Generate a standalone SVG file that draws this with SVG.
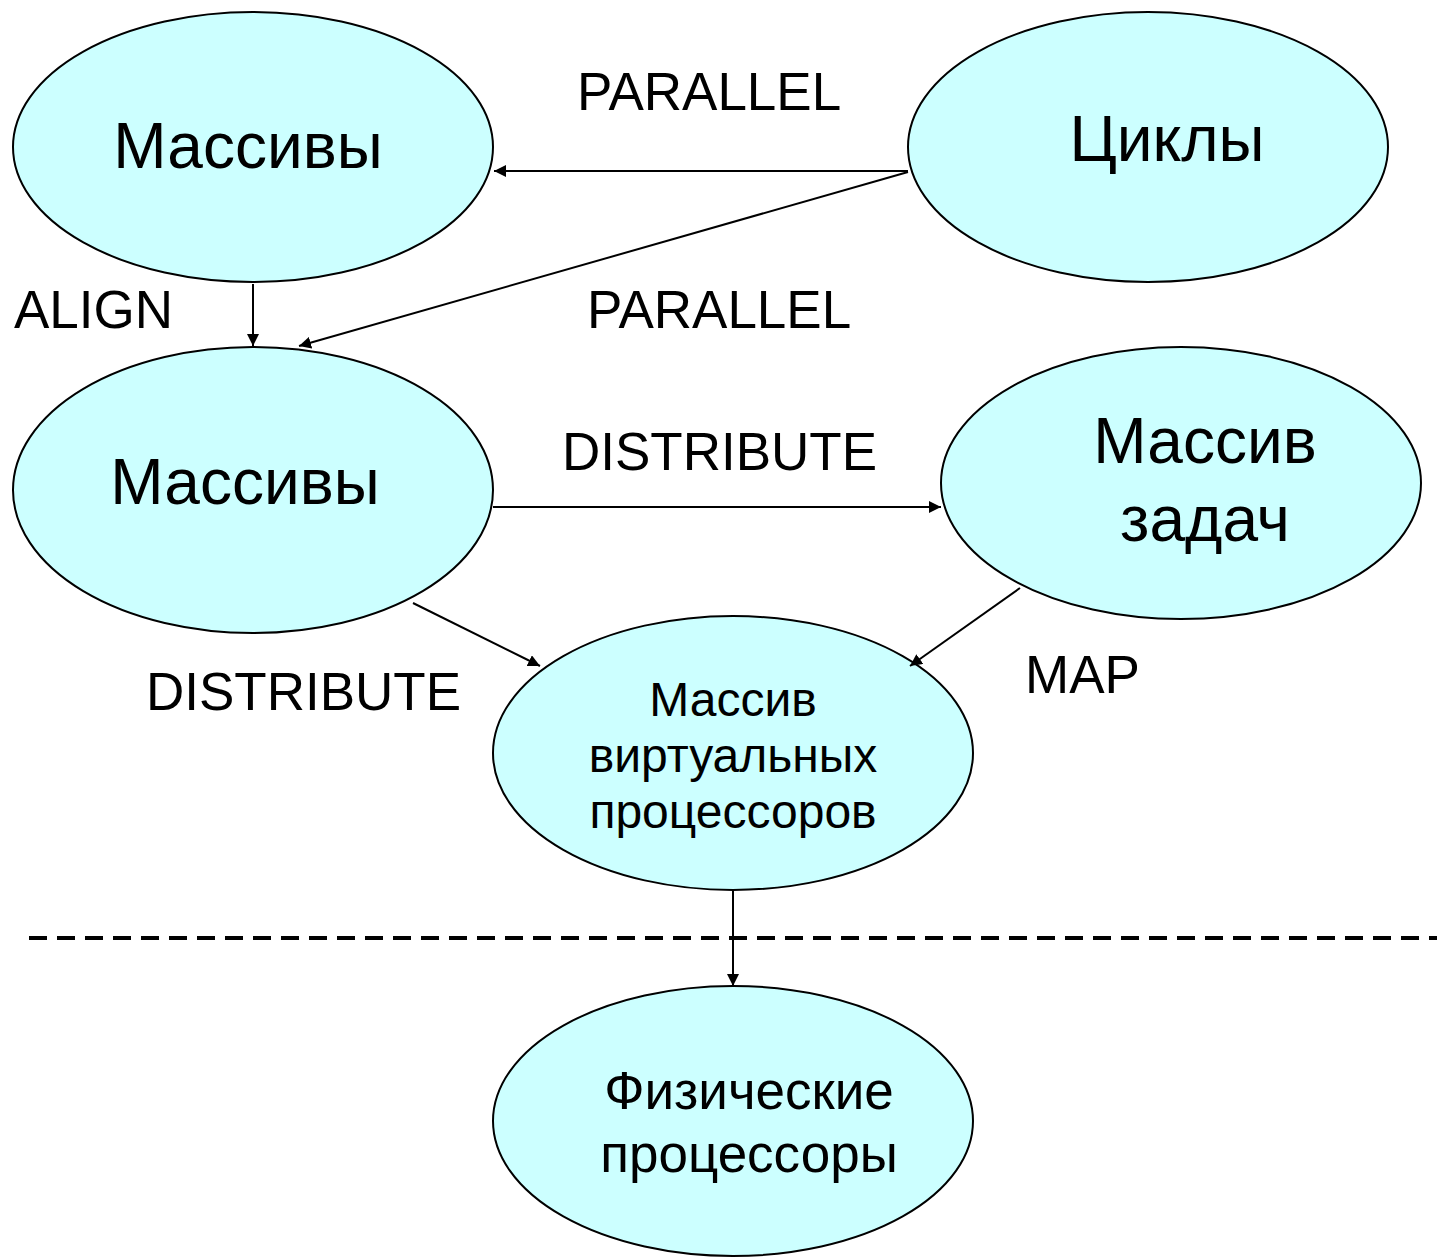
<svg xmlns="http://www.w3.org/2000/svg" width="1437" height="1257" viewBox="0 0 1437 1257">
  <style>
    .node ellipse { fill: #CCFFFF; stroke: #000; stroke-width: 2; }
    text { font-family: "Liberation Sans", Arial, sans-serif; fill: #000; }
    .big { font-size: 64px; text-anchor: middle; }
    .mid { font-size: 53px; text-anchor: middle; }
    .sm { font-size: 48px; text-anchor: middle; }
    .lbl { font-size: 53px; }
    .edge { stroke: #000; stroke-width: 2; fill: none; marker-end: url(#arrow); }
  </style>
  <defs>
    <marker id="arrow" viewBox="0 0 10 10" refX="10" refY="5" markerWidth="12" markerHeight="12" markerUnits="userSpaceOnUse" orient="auto">
      <path d="M0,0 L10,5 L0,10 z" fill="#000"/>
    </marker>
  </defs>

  <rect width="1437" height="1257" fill="#fff"/>

  <!-- separator between virtual and physical levels -->
  <line x1="29" y1="938" x2="1437" y2="938" stroke="#000" stroke-width="4" stroke-dasharray="18 10"/>

  <g id="node-arrays-top" class="node">
    <ellipse cx="253" cy="147" rx="240" ry="135"/>
    <text class="big" x="248" y="168">Массивы</text>
  </g>
  <g id="node-loops" class="node">
    <ellipse cx="1148" cy="147" rx="240" ry="135"/>
    <text class="big" x="1167" y="161">Циклы</text>
  </g>
  <g id="node-arrays-mid" class="node">
    <ellipse cx="253" cy="490" rx="240" ry="143"/>
    <text class="big" x="245" y="504">Массивы</text>
  </g>
  <g id="node-tasks" class="node">
    <ellipse cx="1181" cy="483" rx="240" ry="136"/>
    <text class="big" x="1205" y="463">Массив</text>
    <text class="big" x="1205" y="541">задач</text>
  </g>
  <g id="node-virtual" class="node">
    <ellipse cx="733" cy="753" rx="240" ry="137"/>
    <text class="sm" x="733" y="716">Массив</text>
    <text class="sm" x="733" y="772">виртуальных</text>
    <text class="sm" x="733" y="828">процессоров</text>
  </g>
  <g id="node-physical" class="node">
    <ellipse cx="733" cy="1121" rx="240" ry="135"/>
    <text class="mid" x="749" y="1109">Физические</text>
    <text class="mid" x="749" y="1172">процессоры</text>
  </g>

  <g id="connectors">
    <line class="edge" x1="908" y1="171" x2="494" y2="171"/>
    <line class="edge" x1="908" y1="172" x2="299" y2="346"/>
    <line class="edge" x1="253" y1="284" x2="253" y2="346"/>
    <line class="edge" x1="493" y1="507" x2="941" y2="507"/>
    <line class="edge" x1="413" y1="603" x2="540" y2="666"/>
    <line class="edge" x1="1020" y1="588" x2="910" y2="666"/>
    <line class="edge" x1="733" y1="890" x2="733" y2="986"/>
  </g>

  <g id="labels">
    <text class="lbl" x="577" y="110">PARALLEL</text>
    <text class="lbl" x="14" y="328">ALIGN</text>
    <text class="lbl" x="587" y="328">PARALLEL</text>
    <text class="lbl" x="562" y="470">DISTRIBUTE</text>
    <text class="lbl" x="146" y="710">DISTRIBUTE</text>
    <text class="lbl" x="1025" y="693">MAP</text>
  </g>
</svg>
